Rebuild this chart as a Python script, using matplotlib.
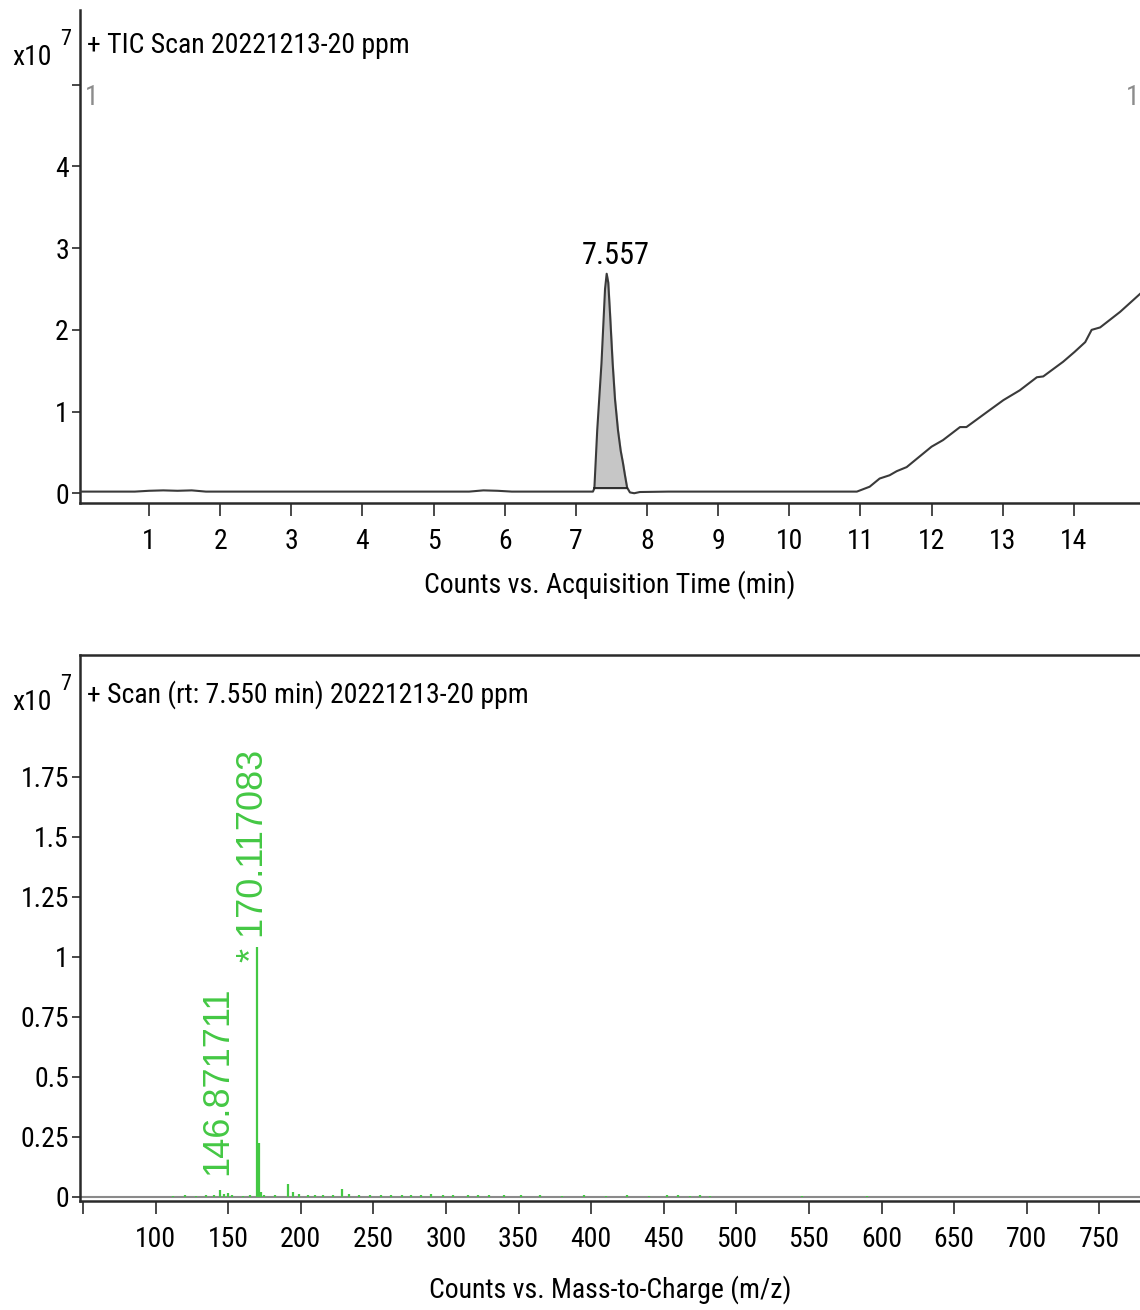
import matplotlib
matplotlib.use("Agg")
import matplotlib.pyplot as plt
import numpy as np
from matplotlib import font_manager

# pick a narrow sans if one is installed, the reference uses a condensed Arial look
fonts = font_manager.fontManager.ttflist
names = {f.name for f in fonts}
narrow = None
stretch = "normal"
for cand in ("Liberation Sans Narrow", "Arial Narrow", "Roboto Condensed", "Open Sans Condensed"):
    if cand in names:
        narrow = cand
        break
if narrow is None:
    for f in fonts:
        if "Narrow" in f.name or "Condensed" in f.name:
            narrow = f.name
            break
if narrow is None:
    for f in fonts:
        if f.name in ("Roboto", "Open Sans", "DejaVu Sans") and str(f.stretch) in ("condensed", "semi-condensed", "75", "87"):
            narrow = f.name
            stretch = "condensed"
            break
if narrow is None:
    narrow = "Liberation Sans"
plain = "Liberation Sans"
plt.rcParams["font.family"] = [narrow, "DejaVu Sans"]
plt.rcParams["font.stretch"] = stretch

# --- TIC chromatogram (counts in units of 1e7) ---
tic_time = [0.03, 0.8, 1.0, 1.2, 1.4, 1.6, 1.8, 5.5, 5.7, 5.9, 6.1, 6.5, 7.0,
            7.24, 7.26, 7.30, 7.36, 7.41, 7.433, 7.455, 7.48, 7.517, 7.55, 7.592,
            7.63, 7.662, 7.69, 7.72, 7.76, 7.82, 7.9,
            8.3, 9.5, 10.95, 11.13, 11.27, 11.41, 11.51, 11.65, 12.0, 12.16, 12.40,
            12.49, 12.82, 13.01, 13.24, 13.48, 13.57, 13.85, 14.01, 14.16, 14.25,
            14.37, 14.65, 14.93]
tic_counts = [0.02, 0.02, 0.03, 0.035, 0.03, 0.035, 0.02, 0.02, 0.035, 0.03, 0.02, 0.02, 0.02,
              0.02, 0.06, 0.77, 1.59, 2.5, 2.687, 2.58, 2.2, 1.59, 1.15, 0.77,
              0.52, 0.37, 0.22, 0.07, 0.01, 0.0, 0.015,
              0.02, 0.02, 0.02, 0.08, 0.18, 0.22, 0.27, 0.32, 0.57, 0.65, 0.81,
              0.81, 1.02, 1.14, 1.26, 1.42, 1.43, 1.61, 1.73, 1.85, 2.0,
              2.03, 2.22, 2.44]
peak_window = (7.26, 7.72)
peak_baseline = 0.06
peak_label = "7.557"
peak_label_time = 7.557
tic_xticks = list(range(1, 15))
tic_yticks = [0, 1, 2, 3, 4, 5]
tic_ylabels = ["0", "1", "2", "3", "4", ""]

# --- mass spectrum at rt 7.550 (counts in units of 1e7) ---
ms_mz = [112, 120, 128, 135, 140, 144.7, 146.9, 150, 153, 160, 165, 170.117, 171.1,
         172.5, 175, 182, 191.5, 195, 199, 205, 210, 215, 222, 228.4, 233, 240, 248,
         255, 262, 270, 276, 283, 290, 298, 305, 315, 322, 330, 340, 352, 365, 380,
         395, 410, 425, 440, 452, 460, 468, 475, 482, 545, 590]
ms_counts = [0.005, 0.006, 0.004, 0.008, 0.006, 0.03, 0.012, 0.018, 0.008, 0.005, 0.006,
             1.04, 0.225, 0.02, 0.006, 0.008, 0.054, 0.02, 0.012, 0.01, 0.008, 0.01, 0.009,
             0.033, 0.012, 0.008, 0.01, 0.009, 0.008, 0.01, 0.008, 0.009, 0.012, 0.008,
             0.01, 0.007, 0.008, 0.006, 0.007, 0.006, 0.007, 0.005, 0.006, 0.005, 0.006,
             0.005, 0.007, 0.006, 0.005, 0.006, 0.004, 0.004, 0.004]
ms_labels = ["146.871711", "* 170.117083"]
ms_label_mz = [142.8, 167.4]
ms_label_y = [0.09, 0.98]
ms_xticks = [50] + list(range(100, 751, 50))
ms_xticklabels = [""] + [str(v) for v in range(100, 751, 50)]
ms_yticks = [0, 0.25, 0.5, 0.75, 1, 1.25, 1.5, 1.75]
ms_ylabels = ["0", "0.25", "0.5", "0.75", "1", "1.25", "1.5", "1.75"]

fs = 20
line_col = "#3a3a3a"
green = "#44c844"

fig = plt.figure(figsize=(11.4, 13.1), dpi=100)
ax1 = fig.add_axes([0.0702, 0.616, 0.9298, 0.376])
ax2 = fig.add_axes([0.0702, 0.0832, 0.9298, 0.4168])

for ax in (ax1, ax2):
    ax.spines["right"].set_visible(False)
    for s in ("left", "bottom", "top"):
        ax.spines[s].set_linewidth(1.8)
        ax.spines[s].set_color("#2a2a2a")
    ax.tick_params(axis="both", direction="out", labelsize=fs, width=1.2, color="#2a2a2a")
    ax.tick_params(axis="x", length=9, pad=9)
    ax.tick_params(axis="y", length=6, pad=2)
ax1.spines["top"].set_visible(False)

# top: chromatogram
t = np.array(tic_time)
c = np.array(tic_counts)
ax1.plot(t, c, color=line_col, lw=1.5, zorder=3)
m = (t >= peak_window[0]) & (t <= peak_window[1])
ax1.fill_between(t[m], peak_baseline, c[m], color="#c6c6c6", zorder=2)
ax1.plot(peak_window, [peak_baseline, peak_baseline], color="#222222", lw=1.3, zorder=3)
ax1.text(peak_label_time, 2.73, peak_label, ha="center", va="bottom", fontsize=fs + 2)
ax1.set_xlim(0.03, 14.93)
ax1.set_ylim(-0.12, 5.91)
ax1.set_xticks(tic_xticks)
ax1.set_yticks(tic_yticks)
ax1.set_yticklabels(tic_ylabels)
ax1.text(0.2, 4.84, "1", color="#8c8c8c", ha="center", va="center", fontsize=fs)
ax1.text(14.83, 4.84, "1", color="#8c8c8c", ha="center", va="center", fontsize=fs)
ax1.text(0.007, 0.914, "+ TIC Scan 20221213-20 ppm", transform=ax1.transAxes,
         fontsize=fs, ha="left", va="baseline")
ax1.set_xlabel("Counts vs. Acquisition Time (min)", fontsize=fs, va="center")
ax1.xaxis.set_label_coords(0.5, -82 / 492.6)

# bottom: spectrum
ax2.axhline(0, color="#8a8a8a", lw=1.5, zorder=1)
ax2.vlines(ms_mz, 0, ms_counts, color=green, lw=1.6, zorder=3)
for lab, x, y in zip(ms_labels, ms_label_mz, ms_label_y):
    ax2.text(x, y, lab, rotation=90, ha="center", va="bottom", color=green,
             fontsize=26, fontweight="light", family=[plain, "DejaVu Sans"],
             fontstretch="normal")
ax2.set_xlim(48, 778)
ax2.set_ylim(-0.017, 2.258)
ax2.set_xticks(ms_xticks)
ax2.set_xticklabels(ms_xticklabels)
ax2.set_yticks(ms_yticks)
ax2.set_yticklabels(ms_ylabels)
ax2.text(0.007, 0.912, "+ Scan (rt: 7.550 min) 20221213-20 ppm", transform=ax2.transAxes,
         fontsize=fs, ha="left", va="baseline")
ax2.set_xlabel("Counts vs. Mass-to-Charge (m/z)", fontsize=fs, va="center")
ax2.xaxis.set_label_coords(0.5, -89 / 546.0)

# exponent labels to the left of each axis
for y_base, y_sup in ((1 - 65 / 1310, 1 - 45 / 1310), (1 - 710 / 1310, 1 - 690 / 1310)):
    fig.text(12 / 1140, y_base, "x10", fontsize=fs, ha="left", va="baseline")
    fig.text(60 / 1140, y_sup, "7", fontsize=fs - 4, ha="left", va="baseline")

fig.savefig("out.png", dpi=100)
